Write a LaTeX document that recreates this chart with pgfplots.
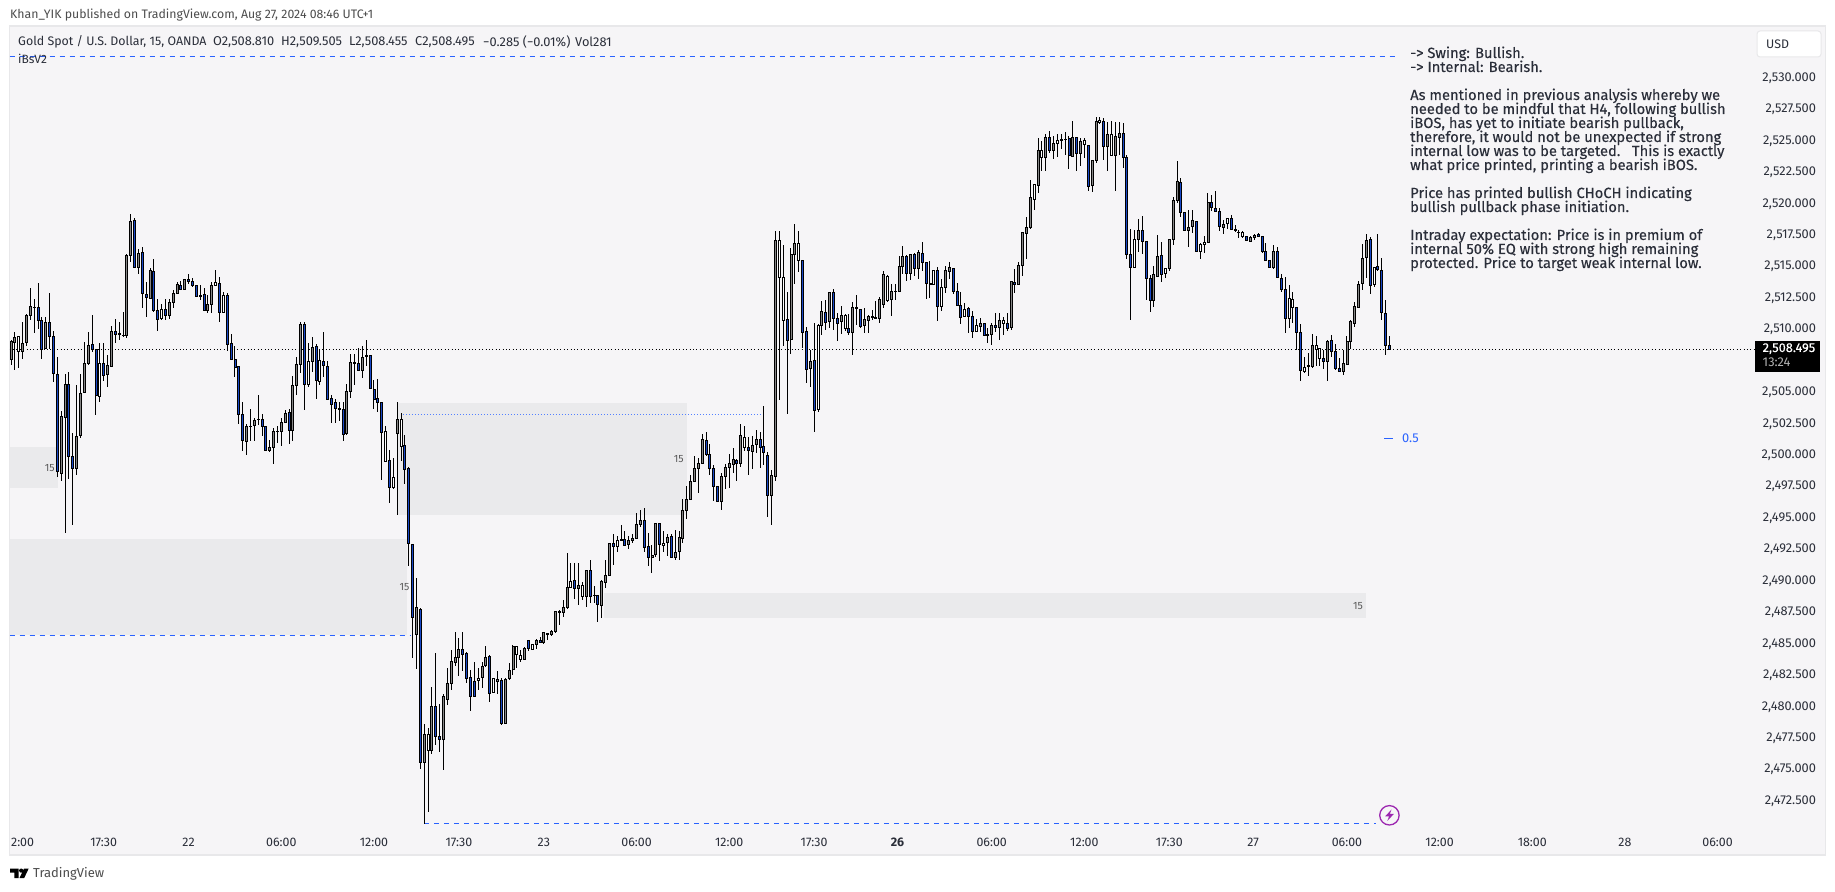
\documentclass[border=0pt]{standalone}
\usepackage{fontspec}
\setmainfont{Fira Sans}
\usepackage{pgfplots}
\usepackage{pgfplotstable}
\pgfplotsset{compat=1.18}
\definecolor{panel}{HTML}{F6F5F7}
\definecolor{frameg}{HTML}{E8E8EA}
\definecolor{zone}{HTML}{EAEAEC}
\definecolor{tvblue}{HTML}{2962FF}
\definecolor{candleblue}{HTML}{1848C8}
\definecolor{candlegrey}{HTML}{868686}
\definecolor{txt}{HTML}{2A2E39}
\definecolor{purp}{HTML}{9C27B0}
\pgfplotstableread{
x k h t b l
0 0 2509.24 2509.16 2507.71 2507.26
1 0 2509.91 2509.48 2509.06 2506.88
2 1 2509.56 2509.54 2508.32 2507.04
3 0 2510.70 2509.00 2508.32 2507.73
4 0 2511.36 2511.21 2509.03 2508.74
5 0 2513.35 2511.92 2511.21 2510.83
6 0 2512.48 2511.87 2511.81 2509.80
7 2 2513.83 2511.84 2510.78 2510.12
8 2 2511.05 2510.81 2508.53 2507.73
9 0 2511.05 2510.67 2508.55 2508.50
10 2 2513.03 2510.65 2509.54 2508.53
11 2 2509.96 2509.54 2506.59 2505.93
12 2 2507.92 2506.51 2498.77 2498.37
13 0 2503.60 2503.17 2498.61 2498.06
14 0 2506.59 2505.72 2503.09 2493.92
15 2 2506.72 2505.72 2499.96 2498.24
16 2 2501.82 2499.99 2499.01 2494.53
17 0 2505.66 2501.61 2499.01 2498.51
18 0 2506.54 2505.00 2501.64 2501.48
19 0 2509.06 2507.41 2505.05 2505.00
20 0 2509.91 2508.82 2507.36 2507.26
21 2 2511.23 2508.90 2508.50 2508.32
22 2 2508.53 2508.50 2504.82 2503.28
23 1 2508.98 2507.39 2504.74 2504.34
24 2 2508.98 2507.39 2506.46 2505.98
25 0 2508.05 2507.23 2506.49 2505.53
26 0 2510.38 2509.96 2507.12 2507.10
27 2 2510.89 2509.93 2509.69 2509.06
28 0 2510.70 2509.75 2509.67 2509.24
29 0 2511.44 2509.64 2509.59 2509.51
30 0 2516.06 2515.98 2509.59 2509.43
31 0 2519.24 2518.71 2515.95 2515.42
32 2 2518.92 2518.76 2515.00 2515.00
33 0 2516.53 2516.14 2515.00 2514.49
34 2 2516.61 2516.22 2512.95 2511.81
35 2 2513.88 2512.90 2512.66 2511.10
36 0 2514.94 2514.81 2512.56 2512.48
37 2 2515.69 2514.70 2511.58 2511.50
38 2 2512.48 2511.60 2510.86 2509.96
39 1 2512.11 2511.66 2510.94 2510.83
40 2 2512.48 2511.71 2511.18 2510.83
41 0 2512.48 2512.24 2511.18 2510.91
42 0 2513.22 2512.98 2512.21 2511.81
43 0 2513.88 2513.67 2512.95 2512.88
44 2 2513.94 2513.59 2513.25 2513.19
45 0 2514.09 2514.09 2513.27 2513.25
46 2 2514.47 2514.07 2513.88 2513.72
47 2 2514.15 2513.91 2513.59 2513.49
48 2 2513.67 2513.59 2512.72 2512.66
49 0 2513.67 2512.80 2512.74 2512.42
50 2 2513.41 2512.88 2511.58 2511.55
51 0 2512.82 2512.08 2511.58 2511.44
52 0 2513.83 2513.59 2512.05 2511.42
53 1 2514.81 2513.83 2513.59 2513.56
54 2 2514.28 2513.75 2511.42 2510.70
55 1 2513.03 2512.82 2511.44 2511.42
56 2 2512.95 2512.80 2508.90 2508.40
57 2 2509.69 2508.98 2507.71 2507.65
58 2 2508.77 2507.71 2507.07 2506.30
59 2 2507.18 2507.15 2503.33 2502.59
60 2 2504.34 2503.33 2501.26 2500.42
61 0 2502.54 2502.38 2501.19 2500.12
62 0 2503.76 2502.40 2502.35 2501.24
63 0 2503.01 2502.86 2502.43 2501.24
64 0 2504.87 2502.96 2502.91 2502.48
65 2 2503.36 2502.93 2502.38 2501.61
66 2 2502.43 2502.38 2500.44 2500.42
67 0 2501.29 2500.71 2500.44 2500.36
68 0 2502.27 2501.98 2500.68 2499.38
69 0 2502.43 2502.01 2501.95 2501.08
70 0 2503.01 2502.72 2501.98 2500.84
71 0 2503.68 2503.41 2502.67 2502.62
72 2 2503.73 2503.49 2502.06 2500.95
73 0 2506.41 2505.64 2502.06 2501.21
74 0 2507.92 2507.31 2505.64 2504.87
75 0 2510.65 2510.49 2507.31 2506.65
76 2 2510.65 2510.49 2505.72 2503.70
77 1 2508.98 2507.55 2505.72 2505.53
78 0 2509.51 2508.66 2507.55 2506.73
79 2 2508.90 2508.71 2506.04 2504.58
80 1 2508.50 2507.63 2505.96 2505.69
81 2 2509.85 2507.55 2507.20 2506.28
82 2 2507.57 2507.15 2504.53 2504.47
83 2 2504.87 2504.60 2504.10 2502.67
84 2 2504.53 2504.29 2503.78 2502.62
85 0 2504.34 2503.81 2503.76 2502.83
86 2 2504.29 2503.73 2501.72 2501.24
87 0 2505.72 2505.16 2501.79 2501.69
88 0 2508.18 2507.47 2505.16 2504.66
89 2 2508.10 2507.47 2507.39 2505.67
90 2 2508.61 2507.39 2506.86 2506.83
91 0 2508.77 2507.89 2506.83 2506.22
92 2 2509.24 2508.00 2507.92 2507.18
93 2 2508.05 2508.02 2505.37 2505.35
94 2 2506.06 2505.32 2504.53 2503.76
95 2 2506.12 2504.60 2504.29 2503.54
96 2 2504.34 2504.29 2501.90 2498.11
97 1 2502.43 2501.98 2499.59 2499.54
98 2 2500.50 2499.67 2497.50 2496.31
99 1 2499.91 2498.32 2497.50 2497.37
100 0 2504.29 2502.93 2501.79 2495.35
101 1 2503.41 2502.93 2500.79 2499.65
102 2 2501.66 2500.87 2498.96 2497.84
103 2 2499.17 2499.01 2493.05 2491.27
104 2 2493.02 2492.99 2487.16 2483.98
105 0 2490.29 2487.95 2485.83 2483.10
106 2 2487.95 2487.82 2475.65 2475.15
107 0 2478.75 2477.88 2475.65 2470.80
108 1 2478.36 2477.88 2476.58 2471.70
109 0 2481.62 2480.08 2476.58 2476.32
110 2 2484.32 2480.08 2477.69 2477.03
111 2 2480.27 2477.72 2477.46 2476.47
112 0 2481.09 2480.90 2477.46 2475.04
113 0 2483.21 2481.94 2480.66 2480.21
114 0 2484.59 2483.69 2481.91 2481.41
115 0 2485.99 2484.00 2483.58 2483.34
116 0 2485.54 2484.64 2483.98 2482.55
117 2 2486.07 2484.64 2484.29 2482.92
118 2 2484.45 2484.32 2482.33 2481.96
119 2 2483.00 2482.41 2480.87 2479.74
120 2 2483.61 2482.09 2480.95 2480.93
121 1 2483.21 2482.33 2482.15 2481.41
122 0 2483.61 2483.31 2482.39 2481.59
123 0 2484.90 2484.00 2483.34 2483.26
124 2 2484.24 2484.08 2481.19 2480.45
125 1 2482.33 2482.33 2481.19 2481.19
126 0 2482.94 2482.25 2482.07 2481.14
127 2 2482.41 2482.15 2478.73 2478.67
128 0 2482.33 2482.25 2478.73 2478.67
129 0 2483.53 2482.97 2482.31 2482.23
130 0 2484.98 2484.88 2483.02 2482.62
131 1 2484.88 2484.88 2484.22 2483.18
132 1 2484.56 2484.16 2483.82 2483.61
133 0 2484.85 2484.72 2483.82 2483.79
134 2 2485.36 2485.33 2484.72 2484.51
135 1 2485.04 2485.01 2484.61 2484.58
136 0 2485.51 2485.36 2485.01 2484.72
137 2 2485.65 2485.36 2485.17 2485.14
138 0 2486.04 2485.96 2485.17 2485.06
139 1 2485.99 2485.96 2485.81 2485.38
140 0 2486.23 2486.04 2485.81 2485.75
141 0 2487.69 2487.64 2486.07 2485.96
142 0 2487.77 2487.66 2487.58 2486.57
143 0 2488.56 2487.98 2487.56 2487.24
144 0 2492.35 2489.57 2487.95 2487.90
145 1 2491.51 2490.05 2489.57 2489.52
146 2 2491.51 2490.13 2489.46 2488.64
147 0 2491.51 2489.73 2489.46 2488.19
148 1 2490.02 2489.73 2488.83 2488.56
149 0 2490.95 2490.90 2488.83 2488.01
150 2 2491.74 2490.92 2488.83 2488.32
151 0 2489.68 2488.96 2488.91 2488.32
152 2 2488.96 2488.93 2488.22 2486.81
153 0 2490.15 2490.05 2488.14 2487.13
154 0 2491.74 2490.52 2489.97 2489.54
155 0 2493.07 2493.04 2490.52 2490.50
156 2 2493.79 2493.07 2492.81 2491.35
157 1 2493.65 2493.31 2492.81 2492.38
158 2 2494.58 2493.39 2493.28 2493.26
159 2 2494.05 2493.39 2492.96 2492.86
160 0 2493.65 2493.31 2492.96 2492.65
161 0 2493.79 2493.47 2493.28 2493.12
162 0 2495.46 2494.58 2493.47 2493.44
163 0 2495.77 2494.90 2494.55 2494.40
164 2 2495.85 2494.90 2492.73 2492.38
165 2 2493.87 2492.83 2491.93 2491.29
166 0 2492.99 2492.12 2491.93 2490.74
167 0 2494.66 2494.66 2492.20 2492.01
168 2 2494.66 2494.66 2492.99 2491.69
169 1 2494.05 2493.07 2492.89 2492.41
170 0 2493.87 2493.55 2493.12 2492.06
171 2 2493.79 2493.63 2491.93 2491.88
172 0 2494.18 2492.35 2491.93 2491.75
173 0 2494.08 2493.55 2492.41 2491.75
174 0 2496.60 2495.70 2493.47 2493.12
175 0 2497.63 2496.57 2495.70 2495.01
176 0 2498.51 2498.00 2496.57 2496.54
177 0 2500.02 2499.04 2498.00 2497.98
178 0 2499.83 2499.43 2499.04 2497.10
179 0 2501.77 2501.34 2499.43 2499.38
180 2 2501.90 2501.26 2500.12 2500.02
181 2 2500.94 2500.15 2499.01 2498.53
182 2 2499.30 2499.04 2497.58 2496.46
183 2 2497.63 2497.60 2496.41 2496.38
184 0 2498.64 2498.40 2496.41 2495.72
185 0 2499.35 2499.12 2498.37 2497.42
186 0 2500.18 2499.43 2499.09 2497.47
187 0 2500.65 2499.75 2499.35 2498.66
188 2 2499.75 2499.67 2499.41 2498.03
189 0 2502.56 2501.66 2499.41 2499.14
190 1 2502.40 2501.50 2500.71 2500.44
191 2 2501.50 2500.71 2500.47 2498.53
192 0 2501.61 2500.86 2500.39 2498.98
193 0 2502.08 2501.34 2500.94 2500.28
194 2 2501.90 2501.34 2500.71 2499.09
195 2 2503.99 2500.79 2500.31 2499.30
196 2 2500.31 2500.07 2496.86 2495.19
197 0 2498.96 2498.48 2496.86 2494.53
198 0 2517.96 2517.17 2498.37 2498.03
199 1 2517.96 2517.17 2514.23 2504.52
200 1 2516.77 2514.23 2510.81 2508.79
201 2 2513.03 2510.89 2509.22 2503.38
202 0 2516.61 2516.06 2509.30 2508.16
203 0 2518.44 2516.93 2516.06 2513.72
204 1 2517.89 2516.93 2515.58 2514.65
205 2 2515.66 2515.58 2509.85 2508.63
206 2 2510.25 2509.93 2506.91 2505.85
207 0 2508.45 2507.55 2506.99 2505.53
208 2 2510.57 2507.63 2503.65 2501.90
209 1 2510.49 2510.41 2503.73 2503.49
210 0 2512.40 2511.52 2510.41 2509.69
211 2 2512.40 2511.44 2510.65 2510.01
212 0 2513.03 2513.03 2510.73 2510.17
213 2 2513.27 2513.03 2510.97 2510.01
214 2 2511.36 2510.97 2510.57 2509.19
215 0 2511.95 2511.20 2510.73 2509.69
216 1 2511.28 2511.20 2510.17 2509.93
217 2 2511.36 2510.17 2509.85 2509.69
218 0 2512.26 2511.84 2509.85 2508.05
219 2 2512.87 2511.84 2511.76 2510.41
220 2 2511.68 2511.68 2510.30 2510.17
221 0 2511.76 2510.89 2510.41 2509.77
222 0 2511.20 2511.13 2510.81 2509.77
223 0 2511.63 2511.13 2511.07 2510.83
224 0 2512.40 2511.05 2510.99 2510.97
225 0 2512.64 2512.48 2510.97 2510.57
226 0 2514.70 2514.47 2512.08 2511.79
227 1 2514.39 2514.31 2512.37 2512.29
228 0 2513.67 2513.11 2512.45 2511.15
229 0 2513.67 2513.14 2513.09 2512.40
230 0 2515.90 2515.10 2513.11 2513.09
231 0 2516.77 2515.90 2515.10 2514.54
232 2 2515.98 2515.90 2514.54 2513.94
233 0 2516.06 2516.06 2514.54 2514.01
234 2 2516.21 2516.06 2514.94 2514.33
235 0 2516.45 2516.21 2514.94 2514.09
236 2 2517.01 2516.14 2515.42 2514.73
237 2 2515.50 2515.42 2513.75 2512.53
238 0 2515.58 2513.75 2513.67 2512.61
239 1 2514.78 2514.78 2513.67 2513.62
240 2 2515.02 2514.78 2511.92 2510.78
241 1 2514.07 2513.43 2511.92 2511.58
242 0 2515.10 2514.78 2513.43 2513.01
243 0 2515.42 2515.02 2514.70 2514.09
244 2 2514.94 2514.94 2513.11 2512.93
245 2 2513.78 2513.11 2512.00 2511.97
246 2 2513.06 2512.00 2511.05 2510.54
247 1 2512.16 2511.68 2511.13 2511.05
248 2 2511.84 2511.76 2511.13 2509.77
249 2 2511.60 2511.13 2509.93 2509.45
250 1 2510.89 2510.41 2509.93 2509.91
251 0 2510.97 2510.57 2510.33 2509.88
252 2 2510.57 2510.57 2509.61 2509.56
253 0 2510.25 2509.69 2509.64 2509.00
254 0 2510.57 2510.41 2509.69 2508.85
255 2 2511.36 2510.41 2510.25 2509.85
256 0 2511.44 2510.81 2510.25 2509.24
257 1 2511.05 2510.81 2510.57 2509.69
258 2 2511.44 2510.57 2510.17 2510.01
259 0 2513.91 2513.91 2510.25 2510.01
260 2 2514.89 2513.83 2513.67 2513.01
261 0 2515.42 2515.18 2513.67 2513.64
262 0 2517.81 2517.81 2515.18 2514.36
263 0 2519.02 2518.20 2517.73 2515.66
264 0 2521.97 2520.59 2518.20 2518.04
265 1 2521.62 2521.62 2520.43 2519.63
266 0 2525.31 2524.33 2521.54 2520.91
267 1 2525.07 2524.33 2523.77 2522.71
268 0 2525.60 2525.36 2523.77 2522.71
269 2 2525.84 2525.36 2524.33 2524.14
270 0 2525.44 2524.88 2524.33 2523.61
271 1 2525.63 2525.12 2524.88 2523.77
272 0 2525.60 2525.20 2525.12 2524.41
273 0 2525.76 2525.23 2525.18 2523.96
274 2 2525.44 2525.28 2523.93 2522.82
275 0 2526.71 2525.36 2523.85 2523.82
276 2 2525.44 2525.36 2524.09 2522.71
277 0 2525.28 2525.04 2524.09 2523.11
278 1 2525.36 2525.12 2524.80 2523.77
279 2 2524.80 2524.72 2521.46 2521.12
280 0 2523.53 2523.53 2521.54 2521.04
281 0 2526.95 2526.63 2523.53 2523.29
282 1 2526.95 2526.71 2526.55 2526.47
283 2 2526.87 2526.63 2524.65 2523.53
284 0 2526.55 2525.60 2524.65 2522.71
285 1 2526.63 2525.60 2523.93 2523.93
286 0 2526.55 2525.44 2523.93 2521.12
287 0 2526.55 2525.68 2525.36 2523.93
288 2 2526.50 2525.68 2523.77 2522.90
289 2 2523.93 2523.77 2516.06 2515.66
290 2 2518.07 2516.06 2515.02 2510.81
291 1 2518.04 2517.25 2515.02 2514.94
292 0 2518.84 2517.96 2517.25 2516.21
293 2 2519.10 2517.96 2517.09 2516.06
294 2 2517.09 2517.09 2514.15 2512.40
295 2 2514.39 2514.15 2512.40 2511.50
296 0 2515.10 2514.47 2512.40 2511.84
297 0 2517.59 2515.90 2514.31 2514.28
298 2 2517.01 2515.98 2514.47 2513.83
299 1 2514.94 2514.94 2514.54 2514.15
300 0 2517.25 2517.25 2514.94 2514.73
301 0 2520.59 2520.35 2517.25 2516.77
302 0 2523.45 2521.86 2520.35 2520.11
303 2 2522.10 2521.78 2519.40 2519.00
304 2 2519.40 2519.40 2517.96 2517.94
305 0 2519.63 2518.20 2517.96 2516.67
306 0 2519.63 2518.76 2518.28 2517.78
307 2 2518.76 2518.68 2516.29 2516.27
308 1 2516.93 2516.85 2516.29 2515.71
309 1 2517.51 2517.01 2516.85 2516.16
310 0 2520.91 2520.19 2517.01 2516.96
311 2 2520.77 2520.19 2519.79 2519.48
312 2 2521.09 2519.71 2519.48 2519.40
313 2 2519.71 2519.48 2518.28 2517.89
314 0 2518.76 2518.44 2518.20 2517.65
315 1 2518.92 2518.92 2518.52 2518.04
316 2 2519.16 2518.92 2518.04 2518.02
317 0 2518.44 2518.04 2517.99 2517.81
318 0 2517.99 2517.81 2517.78 2517.33
319 1 2517.89 2517.81 2517.49 2517.33
320 2 2517.51 2517.49 2517.17 2517.14
321 0 2517.49 2517.41 2517.09 2517.06
322 0 2517.65 2517.57 2517.41 2517.17
323 2 2517.73 2517.65 2517.49 2517.46
324 2 2517.54 2517.49 2516.29 2516.14
325 2 2516.93 2516.29 2515.58 2515.55
326 2 2515.58 2515.58 2515.02 2514.99
327 0 2516.85 2516.29 2515.02 2514.94
328 2 2516.61 2516.29 2514.23 2514.20
329 2 2514.47 2514.15 2513.27 2513.11
330 2 2514.23 2513.27 2510.97 2509.77
331 1 2513.67 2512.56 2510.97 2510.22
332 1 2513.03 2512.48 2511.84 2510.57
333 2 2511.84 2511.84 2509.85 2508.45
334 2 2510.49 2509.85 2506.83 2505.96
335 1 2507.86 2507.07 2506.75 2506.59
336 0 2508.18 2507.23 2507.18 2506.35
337 0 2509.77 2508.82 2507.12 2507.07
338 1 2509.61 2508.82 2508.50 2507.23
339 1 2508.66 2508.58 2507.78 2507.23
340 2 2508.42 2507.78 2507.55 2506.91
341 0 2509.22 2509.14 2507.55 2505.96
342 2 2509.61 2509.22 2508.34 2507.86
343 2 2508.98 2508.34 2506.99 2506.91
344 2 2507.78 2506.99 2506.75 2506.67
345 0 2508.42 2507.39 2506.75 2506.43
346 0 2509.53 2509.14 2507.31 2507.23
347 0 2510.81 2510.73 2509.14 2508.55
348 0 2512.24 2511.92 2510.57 2510.30
349 0 2513.91 2513.67 2511.84 2511.81
350 0 2516.93 2515.74 2513.75 2513.22
351 0 2517.65 2517.17 2515.82 2514.15
352 2 2517.41 2517.25 2513.59 2512.95
353 1 2515.02 2515.02 2513.67 2513.43
354 2 2517.65 2515.10 2514.86 2514.76
355 2 2515.74 2514.78 2511.44 2510.81
356 2 2512.40 2511.36 2508.79 2508.02
357 2 2509.56 2508.82 2508.50 2508.45
}\bars
\newcommand{\PX}[2]{(#1pt,891pt-#2pt)}
\newcommand{\ann}[2]{\node[anchor=base west,inner sep=0pt,text=txt,font=\fontsize{14.7}{14}\selectfont\addfontfeatures{FakeBold=0.2}] at \PX{1410}{#1} {#2};}
% candle shapes: half height comes from the table through \bh
\pgfdeclareplotmark{candlebody}{%
  \pgfpathrectangle{\pgfpoint{-1pt}{-\bh pt}}{\pgfpoint{2pt}{2*\bh pt}}%
  \pgfusepathqfillstroke}
\pgfdeclareplotmark{candlewick}{%
  \pgfpathrectangle{\pgfpoint{-0.47pt}{-\bh pt}}{\pgfpoint{0.94pt}{2*\bh pt}}%
  \pgfusepathqfill}
\pgfplotsset{
  wickplot/.style={scatter,only marks,forget plot,mark=candlewick,point meta=0,
    scatter/use mapped color={draw=none,fill=black},
    visualization depends on={(\thisrow{h}-\thisrow{l})*6.2875 \as \bh}},
  bodyplot/.style={scatter,only marks,forget plot,mark=candlebody,point meta=0,
    scatter/use mapped color={draw=black,fill=#1},
    mark options={solid,line width=0.9pt},
    visualization depends on={(\thisrow{t}-\thisrow{b})*6.2875 \as \bh}},
}
\begin{document}
\begin{tikzpicture}[x=1pt,y=1pt]
\fill[white] (0,0) rectangle (1835,891);
\path[use as bounding box] (0,0) rectangle (1835,891);
\begin{axis}[
  at={(9.5pt,36pt)},anchor=south west,
  scale only axis,width=1816pt,height=829pt,
  xmin=-0.39,xmax=469.95,ymin=2468.29,ymax=2534.215,
  axis background/.style={fill=panel},
  axis line style={draw=frameg,line width=1.6pt},
  major tick length=0pt,tick style={draw=none},
  xtick={3,24,46,70,94,116,138,162,186,208,229.6,254,278,300,321.7,346,370,394,418,442},
  xticklabels={2:00,17:30,22,06:00,12:00,17:30,23,06:00,12:00,17:30,\textbf{26},06:00,12:00,17:30,27,06:00,12:00,18:00,28,06:00},
  xticklabel style={anchor=center,yshift=13pt,font=\fontsize{12.4}{14}\selectfont,text=txt},
  ytick={2472.5,2475,2477.5,2480,2482.5,2485,2487.5,2490,2492.5,2495,2497.5,2500,2502.5,2505,2510,2512.5,2515,2517.5,2520,2522.5,2525,2527.5,2530},
  yticklabels={{2,472.500},{2,475.000},{2,477.500},{2,480.000},{2,482.500},{2,485.000},{2,487.500},{2,490.000},{2,492.500},{2,495.000},{2,497.500},{2,500.000},{2,502.500},{2,505.000},{2,510.000},{2,512.500},{2,515.000},{2,517.500},{2,520.000},{2,522.500},{2,525.000},{2,527.500},{2,530.000}},
  ytick pos=right,yticklabel pos=right,
  yticklabel style={anchor=east,xshift=-6pt,yshift=1pt,font=\fontsize{12.8}{14}\selectfont,text=txt},
]
% zones
\addplot[fill=zone,draw=none,forget plot] coordinates {(-0.39,2500.73)(12.17,2500.73)(12.17,2497.47)(-0.39,2497.47)} --cycle;
\addplot[fill=zone,draw=none,forget plot] coordinates {(-0.39,2493.44)(102.6,2493.44)(102.6,2485.76)(-0.39,2485.76)} --cycle;
\addplot[fill=zone,draw=none,forget plot] coordinates {(100.1,2504.23)(175.1,2504.23)(175.1,2495.33)(100.1,2495.33)} --cycle;
\addplot[fill=zone,draw=none,forget plot] coordinates {(153.6,2489.12)(350.9,2489.12)(350.9,2487.13)(153.6,2487.13)} --cycle;
% lines
\addplot[tvblue,line width=0.9pt,dash pattern=on 5pt off 5pt,forget plot] coordinates {(-0.39,2531.8)(359,2531.8)};
\addplot[tvblue,line width=0.9pt,dash pattern=on 5pt off 5pt,forget plot] coordinates {(-0.39,2485.76)(103.6,2485.76)};
\addplot[tvblue,line width=0.9pt,dash pattern=on 5pt off 5pt,forget plot] coordinates {(107,2470.8)(353.5,2470.8)};
\addplot[tvblue!80,line width=1pt,dash pattern=on 1pt off 2pt,forget plot] coordinates {(101.5,2503.34)(194.5,2503.34)};
\addplot[black,line width=0.9pt,dash pattern=on 1.1pt off 2.3pt,forget plot] coordinates {(-0.39,2508.495)(451.7,2508.495)};
% wicks
\addplot[wickplot] table[x=x,y expr={(\thisrow{h}+\thisrow{l})/2}] {\bars};
% bodies
\addplot[bodyplot=candlegrey] table[x=x,y expr={\thisrow{k}==0 ? (\thisrow{t}+\thisrow{b})/2 : nan}] {\bars};
\addplot[bodyplot=white] table[x=x,y expr={\thisrow{k}==1 ? (\thisrow{t}+\thisrow{b})/2 : nan}] {\bars};
\addplot[bodyplot=candleblue] table[x=x,y expr={\thisrow{k}==2 ? (\thisrow{t}+\thisrow{b})/2 : nan}] {\bars};
\end{axis}
% header
\node[anchor=west,inner sep=0pt,text=black!70,font=\fontsize{12.3}{14}\selectfont] at \PX{10}{15} {Khan\_YIK published on TradingView.com, Aug 27, 2024 08:46 UTC+1};
\node[anchor=west,inner sep=0pt,text=txt,font=\fontsize{12.4}{14}\selectfont] at \PX{18}{42} {Gold Spot / U.S. Dollar, 15, OANDA};
\foreach \xx/\tt in {213/{O2,508.810},281/{H2,509.505},349/{L2,508.455},415/{C2,508.495},483/{−0.285 (−0.01\%)},575/{Vol281}}
  \node[anchor=west,inner sep=0pt,text=txt,font=\fontsize{12.8}{14}\selectfont] at \PX{\xx}{42} {\tt};
\node[anchor=west,inner sep=0pt,text=txt,font=\fontsize{12}{14}\selectfont] at \PX{18}{59} {iBsV2};
% 15 labels
\foreach \xx/\yy in {49.8/467.7,404.5/586.7,678.7/458.7,1358/605.7}
  \node[inner sep=0pt,text=black!65,font=\fontsize{10.5}{12}\selectfont] at \PX{\xx}{\yy} {15};
% annotation
\ann{58}{-> Swing: Bullish.}
\ann{72}{-> Internal: Bearish.}
\ann{100}{As mentioned in previous analysis whereby we}
\ann{114}{needed to be mindful that H4, following bullish}
\ann{128}{iBOS, has yet to initiate bearish pullback,}
\ann{142}{therefore, it would not be unexpected if strong}
\ann{156}{internal low was to be targeted.\ \ \ This is exactly}
\ann{170}{what price printed, printing a bearish iBOS.}
\ann{198}{Price has printed bullish CHoCH indicating}
\ann{212}{bullish pullback phase initiation.}
\ann{240}{Intraday expectation: Price is in premium of}
\ann{254}{internal 50\% EQ with strong high remaining}
\ann{268}{protected. Price to target weak internal low.}
% USD box
\fill[white,draw=frameg,line width=1pt,rounded corners=3pt] \PX{1757}{31} rectangle \PX{1821}{57};
\node[anchor=west,inner sep=0pt,text=txt,font=\fontsize{12.4}{14}\selectfont] at \PX{1766}{44.5} {USD};
% price box
\fill[black] \PX{1755}{341} rectangle \PX{1820}{371.7};
\node[anchor=west,inner sep=0pt,text=white,font=\fontsize{12.8}{14}\selectfont\addfontfeatures{FakeBold=0.3}] at \PX{1762.5}{348.7} {2,508.495};
\node[anchor=west,inner sep=0pt,text=black!30,font=\fontsize{12.8}{14}\selectfont] at \PX{1762.5}{362.7} {13:24};
% 0.5
\draw[tvblue,line width=1pt] \PX{1384}{439} -- \PX{1393}{439};
\node[anchor=west,inner sep=0pt,text=tvblue,font=\fontsize{12.8}{14}\selectfont] at \PX{1402}{438.7} {0.5};
% lightning
\draw[purp,line width=1.3pt,fill=panel] \PX{1389.4}{815.3} circle (9.7pt);
\fill[purp] \PX{1391.5}{809.5} -- \PX{1385}{816.5} -- \PX{1389}{816.5} -- \PX{1387.3}{821} -- \PX{1393.8}{814} -- \PX{1389.8}{814} -- cycle;
% logo
\fill[black] \PX{10}{868.5} -- \PX{18.7}{868.5} -- \PX{18.7}{878} -- \PX{14.3}{878} -- \PX{14.3}{872.7} -- \PX{10}{872.7} -- cycle;
\fill[black] \PX{21.2}{870.6} circle (2.1pt);
\fill[black] \PX{24}{868.5} -- \PX{28.7}{868.5} -- \PX{24.2}{878} -- \PX{19.5}{878} -- cycle;
\node[anchor=west,inner sep=0pt,text=black!70,font=\fontsize{13}{14}\selectfont] at \PX{33}{873.5} {TradingView};
\end{tikzpicture}
\end{document}
